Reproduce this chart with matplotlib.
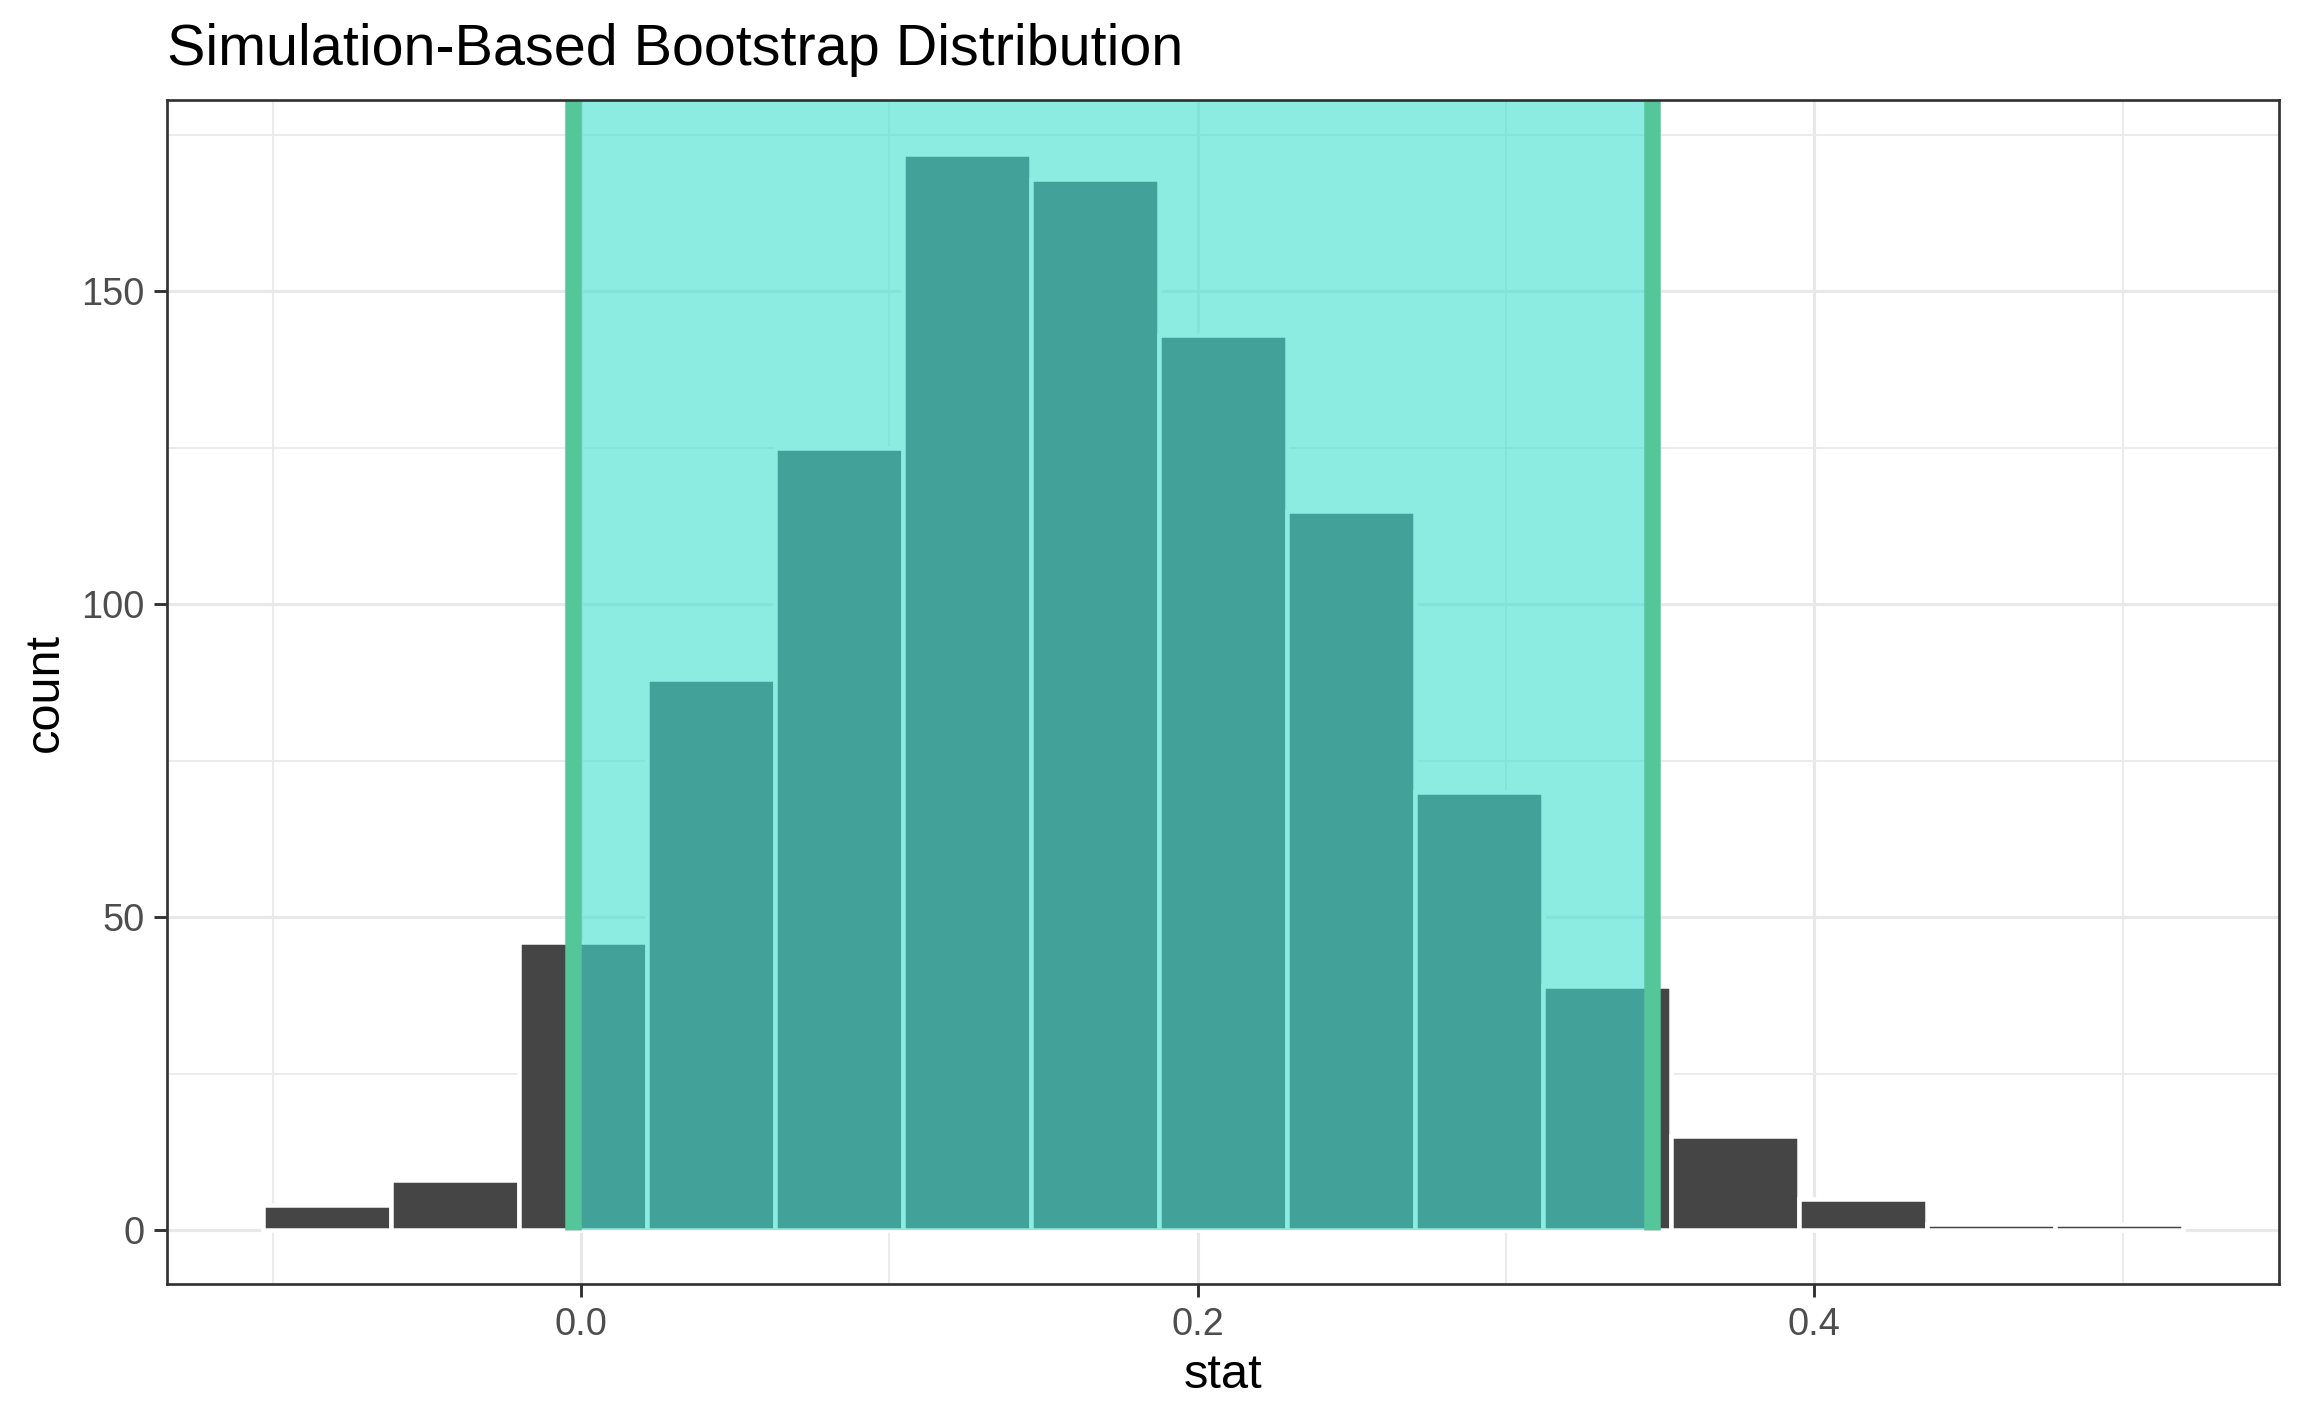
import numpy as np
import matplotlib
matplotlib.use("Agg")
import matplotlib.pyplot as plt
from matplotlib.ticker import FormatStrFormatter, FixedLocator

# ---- data ----
bin_start = -0.1032          # left edge of first histogram bin
bin_width = 0.04152          # width of each bin
counts = [4, 8, 46, 88, 125, 172, 168, 143, 115, 70, 39, 15, 5, 1, 1]
ci_endpoints = [-0.0028, 0.3473]
x_major = [0.0, 0.2, 0.4]
x_minor = [-0.1, 0.1, 0.3, 0.5]
y_major = [0, 50, 100, 150]
y_minor = [25, 75, 125, 175]
title = "Simulation-Based Bootstrap Distribution"
xlabel = "stat"
ylabel = "count"

plt.rcParams['font.family'] = ['Liberation Sans', 'DejaVu Sans']

W, H, DPI = 2304, 1423, 300
fig = plt.figure(figsize=(W / DPI, H / DPI), dpi=DPI)
left_px, right_px, top_px, bottom_px = 167, 2279, 100, 1284
ax = fig.add_axes([left_px / W, 1 - bottom_px / H,
                   (right_px - left_px) / W, (bottom_px - top_px) / H])

edges_left = bin_start + bin_width * np.arange(len(counts))
x_lo = edges_left[0]
x_hi = edges_left[-1] + bin_width
xpad = 0.05 * (x_hi - x_lo)
ymax = max(counts)
ypad = 0.05 * ymax
ax.set_xlim(x_lo - xpad, x_hi + xpad)
ax.set_ylim(-ypad, ymax + ypad)
ytop = ymax + ypad

ax.bar(edges_left, counts, width=bin_width, align='edge', color='#454545',
       edgecolor='white', linewidth=1.08, zorder=2)

ax.fill_between(ci_endpoints, 0, ytop, color='#40E0D0', alpha=0.6,
                linewidth=0, zorder=3)
ax.vlines(ci_endpoints, 0, ytop, colors='#55C59A', linewidth=3.96, zorder=4)

# grid
ax.set_axisbelow(True)
ax.xaxis.set_major_locator(FixedLocator(x_major))
ax.xaxis.set_minor_locator(FixedLocator(x_minor))
ax.yaxis.set_major_locator(FixedLocator(y_major))
ax.yaxis.set_minor_locator(FixedLocator(y_minor))
ax.xaxis.set_major_formatter(FormatStrFormatter('%.1f'))
ax.yaxis.set_major_formatter(FormatStrFormatter('%d'))
ax.grid(which='major', color='#E8E8E8', linewidth=0.75, zorder=0)
ax.grid(which='minor', color='#EBEBEB', linewidth=0.5, zorder=0)

for s in ax.spines.values():
    s.set_color('#333333')
    s.set_linewidth(0.65)
    s.set_zorder(5)

ax.tick_params(which='major', length=3.05, width=0.7, color='#333333',
               labelcolor='#4D4D4D', labelsize=9.1, pad=2.4)
ax.tick_params(which='minor', length=0)

ax.set_xlabel(xlabel, fontsize=11.7, color='black', va='baseline')
ax.xaxis.set_label_coords(0.5, (H - 1388 - (H - bottom_px)) / (bottom_px - top_px))
ax.set_ylabel(ylabel, fontsize=11.7, color='black', va='baseline',
              rotation_mode='anchor')
ax.yaxis.set_label_coords((58 - left_px) / (right_px - left_px), 0.5)

fig.text(left_px / W, 1 - 65 / H, title, fontsize=13.8, color='black',
         ha='left', va='baseline')

fig.savefig('out.png', dpi=DPI, facecolor='white')
